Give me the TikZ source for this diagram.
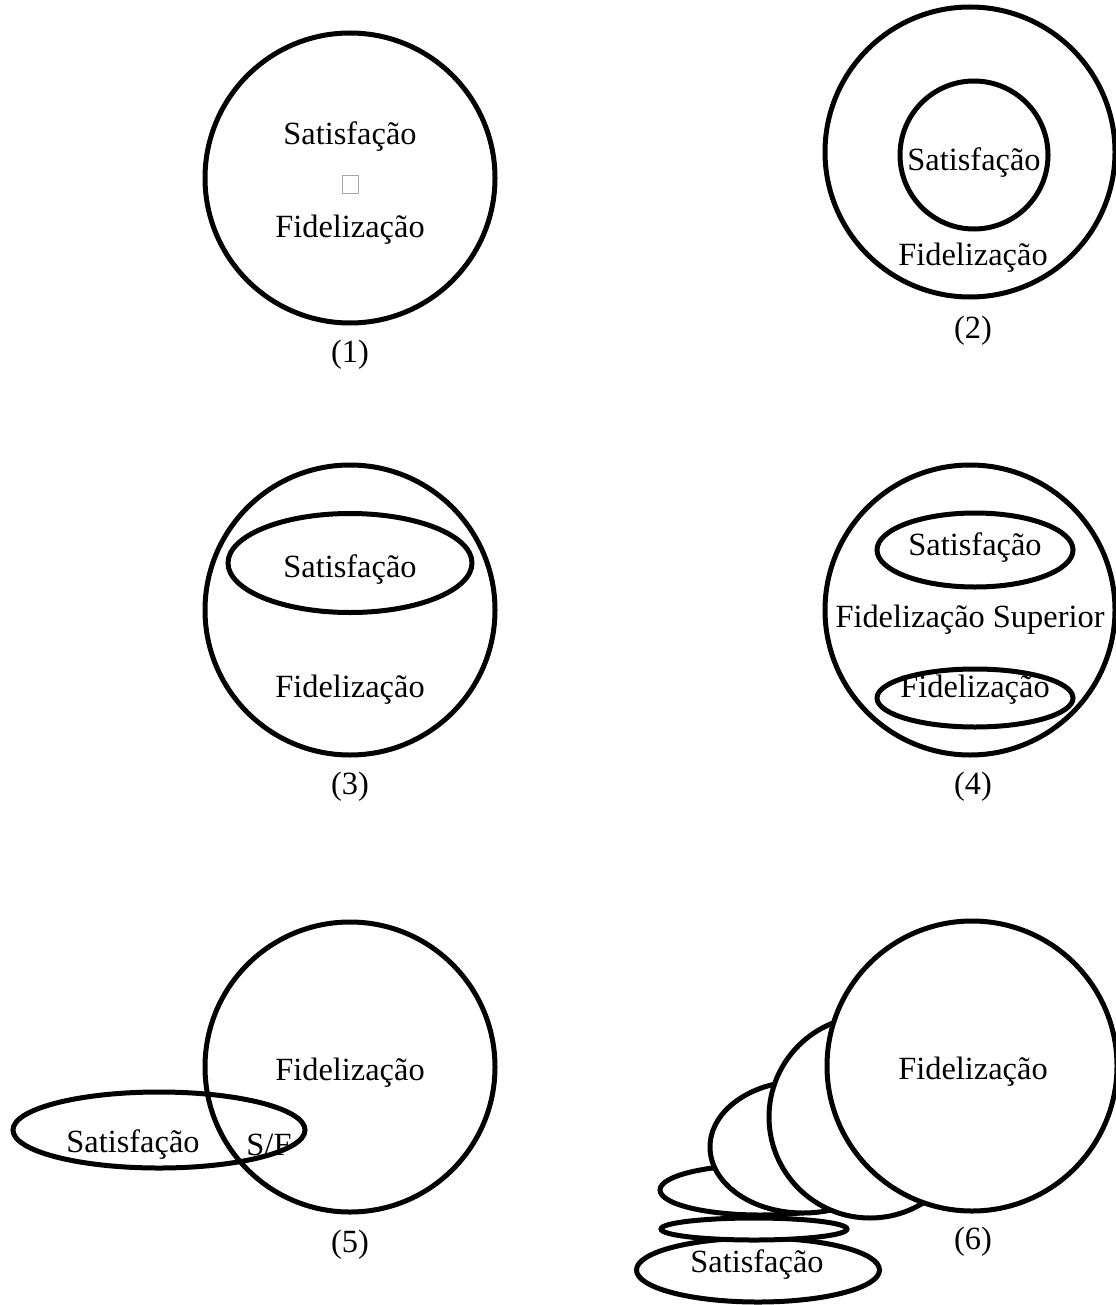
\documentclass[tikz,border=0pt]{standalone}
\usepackage{fontspec}
\setmainfont{Liberation Serif}
\usetikzlibrary{shapes.geometric}
\begin{document}
\begin{tikzpicture}[x=0.5pt,y=-0.5pt,
  ring/.style={circle,draw,line width=2.5pt,inner sep=0pt,minimum size=#1},
  oval/.style n args={2}{ellipse,draw,line width=2.5pt,inner sep=0pt,minimum width=#1,minimum height=#2},
  wfill/.style={fill=white},
  lbl/.style={inner sep=0pt,font=\fontsize{16.2}{18}\selectfont},
  tofu/.style={draw=gray!70,line width=0.4pt,minimum width=8pt,minimum height=9pt,inner sep=0pt}]
\useasboundingbox (0,0) rectangle (1115,1305);

% (1)
\node[ring=145pt] (c1) at (350,178) {};
\node[lbl] (t1a) at (350,137) {Satisfação};
\node[tofu] (t1b) at (350,184) {};
\node[lbl] (t1c) at (350,230) {Fidelização};
\node[lbl] (n1) at (350,355) {(1)};

% (2)
\node[ring=145pt] (c2) at (970,152) {};
\node[ring=74pt] (c2s) at (974,155) {};
\node[lbl] (t2a) at (974,163) {Satisfação};
\node[lbl] (t2b) at (973,258) {Fidelização};
\node[lbl] (n2) at (973,331) {(2)};

% (3)
\node[ring=145pt] (c3) at (350,610) {};
\node[oval={122pt}{49.5pt}] (e3) at (350,563) {};
\node[lbl] (t3a) at (350,570) {Satisfação};
\node[lbl] (t3b) at (350,690) {Fidelização};
\node[lbl] (n3) at (350,787) {(3)};

% (4)
\node[ring=145pt] (c4) at (970,610) {};
\node[oval={98pt}{37pt}] (e4a) at (975,550) {};
\node[oval={98pt}{29pt}] (e4b) at (975,698) {};
\node[lbl] (t4a) at (975,548) {Satisfação};
\node[lbl] (t4b) at (970,620) {Fidelização Superior};
\node[lbl] (t4c) at (975,690) {Fidelização};
\node[lbl] (n4) at (973,787) {(4)};

% (5)
\node[ring=145pt] (c5) at (350,1067) {};
\node[oval={146pt}{38pt}] (e5) at (159,1130) {};
\node[lbl] (t5a) at (350,1073) {Fidelização};
\node[lbl] (t5b) at (133,1145) {Satisfação};
\node[lbl] (t5c) at (269,1145) {S/F};
\node[lbl] (n5) at (350,1245) {(5)};

% (6)
\node[oval={121.5pt}{32pt},wfill] (e6f) at (758,1270) {};
\node[oval={93pt}{11pt},wfill] (e6e) at (754,1229) {};
\node[oval={100pt}{25pt},wfill] (e6d) at (760,1190) {};
\node[oval={93pt}{66pt},wfill] (e6c) at (803,1147) {};
\node[ring=101pt,wfill] (e6b) at (870,1117) {};
\node[ring=145pt,wfill] (c6) at (972,1066) {};
\node[lbl] (t6a) at (973,1072) {Fidelização};
\node[lbl] (t6b) at (757,1265) {Satisfação};
\node[lbl] (n6) at (973,1242) {(6)};
\end{tikzpicture}
\end{document}
